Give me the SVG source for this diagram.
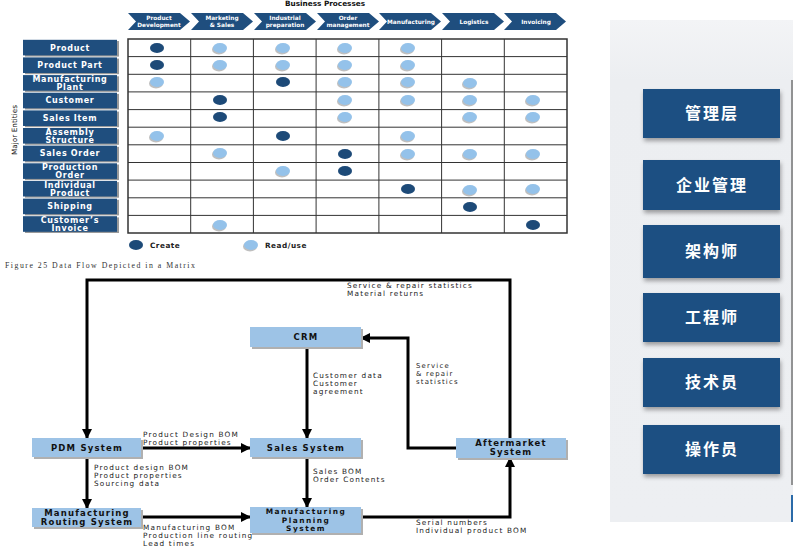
<svg xmlns="http://www.w3.org/2000/svg" width="801" height="552" viewBox="0 0 801 552">
<defs>
<style>
.lbl{fill:#1f4e7e}
.lsh{fill:#9a9a9a}
.lt{font-family:"DejaVu Sans",sans-serif;font-weight:bold;font-size:8px;letter-spacing:0.7px;fill:#fff;text-anchor:middle}
.ct{font-family:"DejaVu Sans",sans-serif;font-weight:bold;font-size:5.8px;fill:#fff;text-anchor:middle}
.dk{fill:#1d4a78}
.lg{fill:#94c2ea}
.dsh{fill:#8a8a8a;opacity:0.55}
.grid{stroke:#333;stroke-width:1;fill:none}
.box{fill:#9dc3e6}
.bsh{fill:#b0b0b0}
.bt{font-family:"DejaVu Sans",sans-serif;font-weight:bold;font-size:8.5px;letter-spacing:1.2px;fill:#111;text-anchor:middle}
.bt3{font-family:"DejaVu Sans",sans-serif;font-weight:bold;font-size:7.4px;letter-spacing:1.5px;fill:#111;text-anchor:middle}
.nt{font-family:"DejaVu Sans",sans-serif;font-size:7.3px;letter-spacing:1.2px;fill:#222}
.con{stroke:#000;stroke-width:3;fill:none}
.btn{fill:#1b4f82}
.cjk{font-family:"Noto Sans CJK SC",sans-serif;font-weight:bold;font-size:16px;letter-spacing:2px;fill:#fff;text-anchor:middle}
</style>
<marker id="ah" markerUnits="userSpaceOnUse" markerWidth="10" markerHeight="10" refX="9" refY="5" orient="auto">
<path d="M0,0 L10,5 L0,10 z" fill="#000"/>
</marker>
<filter id="sh" x="-10%" y="-10%" width="130%" height="150%">
<feDropShadow dx="1" dy="3" stdDeviation="2" flood-color="#000" flood-opacity="0.35"/>
</filter>
<linearGradient id="pg" x1="0" y1="0" x2="0" y2="1">
<stop offset="0" stop-color="#f3f4f6"/>
<stop offset="0.12" stop-color="#eceef1"/>
<stop offset="1" stop-color="#edeff2"/>
</linearGradient>
</defs>
<rect width="801" height="552" fill="#fff"/>

<!-- Matrix -->
<g id="matrix">
<text x="325" y="6" style="font-family:'DejaVu Sans',sans-serif;font-weight:bold;font-size:7.3px;fill:#111;text-anchor:middle">Business Processes</text>
<g id="chevrons">
<path class="lbl" d="M128,13 H180 L190,21.5 L180,30 H128 L136,21.5 Z"/>
<path class="lbl" d="M191,13 H243 L253,21.5 L243,30 H191 L199,21.5 Z"/>
<path class="lbl" d="M254,13 H306 L316,21.5 L306,30 H254 L262,21.5 Z"/>
<path class="lbl" d="M317,13 H369 L379,21.5 L369,30 H317 L325,21.5 Z"/>
<path class="lbl" d="M379,13 H431 L441,21.5 L431,30 H379 L387,21.5 Z"/>
<path class="lbl" d="M442,13 H494 L504,21.5 L494,30 H442 L450,21.5 Z"/>
<path class="lbl" d="M504,13 H556 L566,21.5 L556,30 H504 L512,21.5 Z"/>
<text class="ct" x="159" y="20">Product</text><text class="ct" x="159" y="27">Development</text>
<text class="ct" x="222" y="20">Marketing</text><text class="ct" x="222" y="27">&amp; Sales</text>
<text class="ct" x="285" y="19.5">Industrial</text><text class="ct" x="285" y="26.5">preparation</text>
<text class="ct" x="348" y="19.5">Order</text><text class="ct" x="348" y="26.5">management</text>
<text class="ct" x="411" y="23.5">Manufacturing</text>
<text class="ct" x="474" y="23.5">Logistics</text>
<text class="ct" x="536" y="23.5">Invoicing</text>
</g>
<text transform="translate(17,130) rotate(-90)" style="font-family:'DejaVu Sans',sans-serif;font-size:7.3px;fill:#111;text-anchor:middle">Major Entities</text>
<g id="rowlabels">
<rect class="lsh" x="25" y="41" width="94" height="15.6"/><rect class="lbl" x="23" y="39.8" width="94" height="15.6"/><text class="lt" x="70" y="50.5">Product</text>
<rect class="lsh" x="25" y="58.6" width="94" height="15.6"/><rect class="lbl" x="23" y="57.4" width="94" height="15.6"/><text class="lt" x="70" y="68">Product Part</text>
<rect class="lsh" x="25" y="76.3" width="94" height="15.6"/><rect class="lbl" x="23" y="75.1" width="94" height="15.6"/><text class="lt" x="70" y="81.5">Manufacturing</text><text class="lt" x="70" y="89.5">Plant</text>
<rect class="lsh" x="25" y="93.9" width="94" height="15.6"/><rect class="lbl" x="23" y="92.7" width="94" height="15.6"/><text class="lt" x="70" y="103.3">Customer</text>
<rect class="lsh" x="25" y="111.6" width="94" height="15.6"/><rect class="lbl" x="23" y="110.4" width="94" height="15.6"/><text class="lt" x="70" y="121">Sales Item</text>
<rect class="lsh" x="25" y="129.2" width="94" height="15.6"/><rect class="lbl" x="23" y="128" width="94" height="15.6"/><text class="lt" x="70" y="134.5">Assembly</text><text class="lt" x="70" y="142.5">Structure</text>
<rect class="lsh" x="25" y="146.8" width="94" height="15.6"/><rect class="lbl" x="23" y="145.6" width="94" height="15.6"/><text class="lt" x="70" y="156.3">Sales Order</text>
<rect class="lsh" x="25" y="164.5" width="94" height="15.6"/><rect class="lbl" x="23" y="163.3" width="94" height="15.6"/><text class="lt" x="70" y="169.8">Production</text><text class="lt" x="70" y="177.8">Order</text>
<rect class="lsh" x="25" y="182.1" width="94" height="15.6"/><rect class="lbl" x="23" y="180.9" width="94" height="15.6"/><text class="lt" x="70" y="187.5">Individual</text><text class="lt" x="70" y="195.5">Product</text>
<rect class="lsh" x="25" y="199.8" width="94" height="15.6"/><rect class="lbl" x="23" y="198.6" width="94" height="15.6"/><text class="lt" x="70" y="209.2">Shipping</text>
<rect class="lsh" x="25" y="217.4" width="94" height="15.6"/><rect class="lbl" x="23" y="216.2" width="94" height="15.6"/><text class="lt" x="70" y="222.6">Customer’s</text><text class="lt" x="70" y="230.6">Invoice</text>
</g>
<g id="grid" class="grid">
<rect x="128" y="39" width="439" height="194" stroke-width="1.5"/>
<path d="M190.7,39V233M253.4,39V233M316.1,39V233M378.9,39V233M441.6,39V233M504.3,39V233"/>
<path d="M128,56.6H567M128,74.3H567M128,91.9H567M128,109.6H567M128,127.2H567M128,144.8H567M128,162.5H567M128,180.1H567M128,197.8H567M128,215.4H567"/>
</g>
<g id="dots">
<ellipse class="dk" cx="157" cy="48" rx="7" ry="5"/>
<ellipse class="dsh" cx="219" cy="49.5" rx="7" ry="5"/><ellipse class="lg" cx="220" cy="48" rx="7" ry="5"/>
<ellipse class="dsh" cx="282" cy="49.5" rx="7" ry="5"/><ellipse class="lg" cx="283" cy="48" rx="7" ry="5"/>
<ellipse class="dsh" cx="344" cy="49.5" rx="7" ry="5"/><ellipse class="lg" cx="345" cy="48" rx="7" ry="5"/>
<ellipse class="dsh" cx="407" cy="49.5" rx="7" ry="5"/><ellipse class="lg" cx="408" cy="48" rx="7" ry="5"/>
<ellipse class="dk" cx="157" cy="65" rx="7" ry="5"/>
<ellipse class="dsh" cx="219" cy="66.5" rx="7" ry="5"/><ellipse class="lg" cx="220" cy="65" rx="7" ry="5"/>
<ellipse class="dsh" cx="282" cy="66.5" rx="7" ry="5"/><ellipse class="lg" cx="283" cy="65" rx="7" ry="5"/>
<ellipse class="dsh" cx="344" cy="66.5" rx="7" ry="5"/><ellipse class="lg" cx="345" cy="65" rx="7" ry="5"/>
<ellipse class="dsh" cx="407" cy="66.5" rx="7" ry="5"/><ellipse class="lg" cx="408" cy="65" rx="7" ry="5"/>
<ellipse class="dsh" cx="156" cy="83.5" rx="7" ry="5"/><ellipse class="lg" cx="157" cy="82" rx="7" ry="5"/>
<ellipse class="dk" cx="283" cy="82" rx="7" ry="5"/>
<ellipse class="dsh" cx="344" cy="83.5" rx="7" ry="5"/><ellipse class="lg" cx="345" cy="82" rx="7" ry="5"/>
<ellipse class="dsh" cx="407" cy="83.5" rx="7" ry="5"/><ellipse class="lg" cx="408" cy="82" rx="7" ry="5"/>
<ellipse class="dsh" cx="469" cy="84.5" rx="7" ry="5"/><ellipse class="lg" cx="470" cy="83" rx="7" ry="5"/>
<ellipse class="dk" cx="220" cy="100" rx="7" ry="5"/>
<ellipse class="dsh" cx="344" cy="101.5" rx="7" ry="5"/><ellipse class="lg" cx="345" cy="100" rx="7" ry="5"/>
<ellipse class="dsh" cx="407" cy="101.5" rx="7" ry="5"/><ellipse class="lg" cx="408" cy="100" rx="7" ry="5"/>
<ellipse class="dsh" cx="469" cy="101.5" rx="7" ry="5"/><ellipse class="lg" cx="470" cy="100" rx="7" ry="5"/>
<ellipse class="dsh" cx="532" cy="101.5" rx="7" ry="5"/><ellipse class="lg" cx="533" cy="100" rx="7" ry="5"/>
<ellipse class="dk" cx="220" cy="117" rx="7" ry="5"/>
<ellipse class="dsh" cx="344" cy="118.5" rx="7" ry="5"/><ellipse class="lg" cx="345" cy="117" rx="7" ry="5"/>
<ellipse class="dsh" cx="469" cy="118.5" rx="7" ry="5"/><ellipse class="lg" cx="470" cy="117" rx="7" ry="5"/>
<ellipse class="dsh" cx="532" cy="118.5" rx="7" ry="5"/><ellipse class="lg" cx="533" cy="117" rx="7" ry="5"/>
<ellipse class="dsh" cx="156" cy="137.5" rx="7" ry="5"/><ellipse class="lg" cx="157" cy="136" rx="7" ry="5"/>
<ellipse class="dk" cx="283" cy="136" rx="7" ry="5"/>
<ellipse class="dsh" cx="407" cy="137.5" rx="7" ry="5"/><ellipse class="lg" cx="408" cy="136" rx="7" ry="5"/>
<ellipse class="dsh" cx="219" cy="154.5" rx="7" ry="5"/><ellipse class="lg" cx="220" cy="153" rx="7" ry="5"/>
<ellipse class="dk" cx="345" cy="154" rx="7" ry="5"/>
<ellipse class="dsh" cx="407" cy="155.5" rx="7" ry="5"/><ellipse class="lg" cx="408" cy="154" rx="7" ry="5"/>
<ellipse class="dsh" cx="469" cy="155.5" rx="7" ry="5"/><ellipse class="lg" cx="470" cy="154" rx="7" ry="5"/>
<ellipse class="dsh" cx="532" cy="155.5" rx="7" ry="5"/><ellipse class="lg" cx="533" cy="154" rx="7" ry="5"/>
<ellipse class="dsh" cx="282" cy="172.5" rx="7" ry="5"/><ellipse class="lg" cx="283" cy="171" rx="7" ry="5"/>
<ellipse class="dk" cx="345" cy="171" rx="7" ry="5"/>
<ellipse class="dk" cx="408" cy="189" rx="7" ry="5"/>
<ellipse class="dsh" cx="469" cy="191.5" rx="7" ry="5"/><ellipse class="lg" cx="470" cy="190" rx="7" ry="5"/>
<ellipse class="dsh" cx="532" cy="190.5" rx="7" ry="5"/><ellipse class="lg" cx="533" cy="189" rx="7" ry="5"/>
<ellipse class="dk" cx="470" cy="207" rx="7" ry="5"/>
<ellipse class="dsh" cx="219" cy="226.5" rx="7" ry="5"/><ellipse class="lg" cx="220" cy="225" rx="7" ry="5"/>
<ellipse class="dk" cx="533" cy="225" rx="7" ry="5"/>
</g>
<g id="legend">
<ellipse class="dk" cx="136" cy="245" rx="7" ry="5"/>
<text x="150" y="248" style="font-family:'DejaVu Sans',sans-serif;font-weight:bold;font-size:7.3px;letter-spacing:0.5px;fill:#222">Create</text>
<ellipse class="dsh" cx="250" cy="246.5" rx="7" ry="5"/><ellipse class="lg" cx="251" cy="245" rx="7" ry="5"/>
<text x="265" y="248" style="font-family:'DejaVu Sans',sans-serif;font-weight:bold;font-size:7.3px;letter-spacing:0.5px;fill:#222">Read/use</text>
</g>
</g>
<text x="5" y="268" style="font-family:'Liberation Serif',serif;font-size:7.8px;letter-spacing:1.5px;fill:#333">Figure 25 Data Flow Depicted in a Matrix</text>

<!-- Data flow diagram: connectors -->
<g id="connectors">
<path class="con" d="M510,438 V280 H87 V438" marker-end="url(#ah)"/>
<path class="con" d="M307,347 V438" marker-end="url(#ah)"/>
<path class="con" d="M456,448 H408 V338 H361" marker-end="url(#ah)"/>
<path class="con" d="M141,448 H250" marker-end="url(#ah)"/>
<path class="con" d="M87,457 V508" marker-end="url(#ah)"/>
<path class="con" d="M307,457 V507" marker-end="url(#ah)"/>
<path class="con" d="M141,517 H250" marker-end="url(#ah)"/>
<path class="con" d="M361,517 H510 V458" marker-end="url(#ah)"/>
</g>
<g id="connector-labels">
<text class="nt" x="347" y="288">Service &amp; repair statistics</text>
<text class="nt" x="347" y="296">Material returns</text>
<text class="nt" x="313" y="378">Customer data</text>
<text class="nt" x="313" y="386">Customer</text>
<text class="nt" x="313" y="394">agreement</text>
<text class="nt" x="416" y="368" style="font-size:6.9px">Service</text>
<text class="nt" x="416" y="376" style="font-size:6.9px">&amp; repair</text>
<text class="nt" x="416" y="384" style="font-size:6.9px">statistics</text>
<text class="nt" x="143" y="437">Product Design BOM</text>
<text class="nt" x="143" y="445">Product properties</text>
<text class="nt" x="94" y="470">Product design BOM</text>
<text class="nt" x="94" y="478">Product properties</text>
<text class="nt" x="94" y="486">Sourcing data</text>
<text class="nt" x="313" y="474">Sales BOM</text>
<text class="nt" x="313" y="482">Order Contents</text>
<text class="nt" x="143" y="530">Manufacturing BOM</text>
<text class="nt" x="143" y="538">Production line routing</text>
<text class="nt" x="143" y="546">Lead times</text>
<text class="nt" x="416" y="525">Serial numbers</text>
<text class="nt" x="416" y="533">Individual product BOM</text>
</g>

<!-- Nodes -->
<g id="crm"><rect class="bsh" x="252" y="329" width="111" height="20"/><rect class="box" x="250" y="327" width="111" height="20"/><text class="bt" x="306" y="340">CRM</text></g>
<g id="pdm"><rect class="bsh" x="34" y="440" width="109" height="19"/><rect class="box" x="32" y="438" width="109" height="19"/><text class="bt" x="87" y="450.5">PDM System</text></g>
<g id="sales"><rect class="bsh" x="252" y="440" width="111" height="19"/><rect class="box" x="250" y="438" width="111" height="19"/><text class="bt" x="306" y="450.5">Sales System</text></g>
<g id="aftermarket"><rect class="bsh" x="458" y="440" width="110" height="20"/><rect class="box" x="456" y="438" width="110" height="20"/><text class="bt" x="511" y="446">Aftermarket</text><text class="bt" x="511" y="454.5">System</text></g>
<g id="routing"><rect class="bsh" x="34" y="510" width="109" height="19"/><rect class="box" x="32" y="508" width="109" height="19"/><text class="bt" x="87" y="516">Manufacturing</text><text class="bt" x="87" y="524.5">Routing System</text></g>
<g id="planning"><rect class="bsh" x="252" y="509" width="111" height="26"/><rect class="box" x="250" y="507" width="111" height="26"/><text class="bt3" x="306" y="514.3">Manufacturing</text><text class="bt3" x="306" y="522.6">Planning</text><text class="bt3" x="306" y="530.9">System</text></g>

<!-- Right panel -->
<g id="rolepanel">
<rect x="610" y="20" width="183" height="502" fill="url(#pg)"/>
<line x1="792" y1="80" x2="792" y2="485" stroke="#555" stroke-width="1.2"/>
<line x1="792" y1="495" x2="792" y2="522" stroke="#2a6aa8" stroke-width="2"/>
<g id="role1"><rect class="btn" x="643" y="89" width="137" height="49" filter="url(#sh)"/><text class="cjk" x="712" y="119">管理层</text></g>
<g id="role2"><rect class="btn" x="643" y="160" width="137" height="50" filter="url(#sh)"/><text class="cjk" x="712" y="191">企业管理</text></g>
<g id="role3"><rect class="btn" x="643" y="225" width="137" height="53" filter="url(#sh)"/><text class="cjk" x="712" y="257">架构师</text></g>
<g id="role4"><rect class="btn" x="643" y="293" width="137" height="49" filter="url(#sh)"/><text class="cjk" x="712" y="323">工程师</text></g>
<g id="role5"><rect class="btn" x="643" y="358" width="137" height="49" filter="url(#sh)"/><text class="cjk" x="712" y="388">技术员</text></g>
<g id="role6"><rect class="btn" x="643" y="425" width="137" height="49" filter="url(#sh)"/><text class="cjk" x="712" y="455">操作员</text></g>
</g>
</svg>
